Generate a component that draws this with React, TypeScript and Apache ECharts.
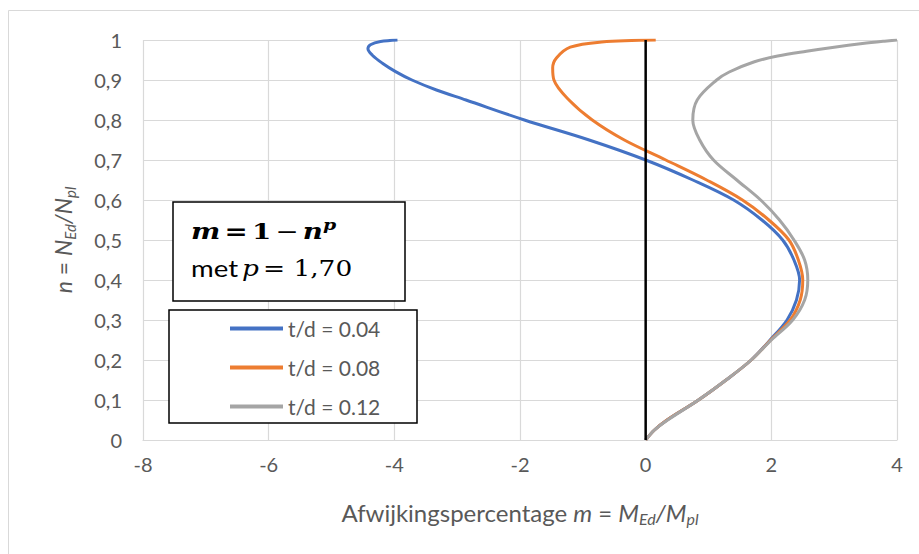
import React, { useEffect, useRef } from "react";
import * as echarts from "echarts";

// [m, n] pairs
const serie004: [number, number][] = [
  [0, 0], [0.14, 0.025], [0.34, 0.05], [0.84, 0.1], [1.28, 0.15], [1.68, 0.2],
  [1.98, 0.25], [2.25, 0.3], [2.4, 0.35], [2.45, 0.4], [2.36, 0.45], [2.18, 0.5],
  [1.85, 0.55], [1.4, 0.6], [0.75, 0.65], [0, 0.7], [-0.9, 0.75], [-1.93, 0.8],
  [-2.86, 0.85], [-3.33, 0.875], [-3.72, 0.9], [-3.98, 0.921], [-4.19, 0.942],
  [-4.35, 0.962], [-4.42, 0.978], [-4.38, 0.988], [-4.22, 0.996], [-3.95, 1],
];
const serie008: [number, number][] = [
  [0, 0], [0.14, 0.025], [0.34, 0.05], [0.84, 0.1], [1.28, 0.15], [1.68, 0.2],
  [1.99, 0.25], [2.3, 0.3], [2.46, 0.35], [2.5, 0.4], [2.43, 0.45], [2.28, 0.5],
  [1.96, 0.55], [1.54, 0.6], [0.97, 0.65], [0.32, 0.7], [-0.34, 0.75], [-0.85, 0.8],
  [-1.22, 0.85], [-1.46, 0.9], [-1.48, 0.93], [-1.42, 0.955], [-1.2, 0.982],
  [-0.7, 0.995], [0.16, 1],
];
const serie012: [number, number][] = [
  [0, 0], [0.14, 0.025], [0.35, 0.05], [0.84, 0.1], [1.28, 0.15], [1.68, 0.2],
  [2.0, 0.25], [2.34, 0.3], [2.53, 0.35], [2.58, 0.4], [2.53, 0.45], [2.36, 0.5],
  [2.13, 0.55], [1.83, 0.6], [1.45, 0.65], [1.08, 0.7], [0.86, 0.75], [0.75, 0.8],
  [0.82, 0.85], [1.13, 0.9], [1.33, 0.92], [1.72, 0.945], [2.1, 0.96],
  [2.56, 0.972], [3.0, 0.982], [3.45, 0.991], [3.8, 0.997], [4.0, 1],
];
const zeroLine: [number, number][] = [[0, 0], [0, 1]];

const seriesNames = ["t/d = 0.04", "t/d = 0.08", "t/d = 0.12"];
const seriesColors = ["#4472C4", "#ED7D31", "#A5A5A5"];

const xMin = -8, xMax = 4, xStep = 2;
const yMin = 0, yMax = 1, yStep = 0.1;

const FONT = "Lato, 'Open Sans', sans-serif";
const MATH = "'DejaVu Serif', 'Liberation Serif', serif";

export default function App() {
  const ref = useRef<HTMLDivElement>(null);
  useEffect(() => {
    if (!ref.current) return;
    const chart = echarts.init(ref.current, undefined, { renderer: "svg" });
    const datasets = [serie004, serie008, serie012];
    const curveSeries = datasets.map((d, i) => ({
      name: seriesNames[i],
      type: "line",
      data: d,
      smooth: 0.35,
      showSymbol: false,
      symbol: "none",
      lineStyle: { color: seriesColors[i], width: 3 },
      itemStyle: { color: seriesColors[i] },
      z: 2 + i,
    }));
    const nameRich = (size: number) => ({
      i: { fontStyle: "italic", fontSize: size, color: "#595959", fontFamily: FONT, lineHeight: 28 },
      s: { fontStyle: "italic", fontSize: Math.round(size * 0.65), color: "#595959", fontFamily: FONT, lineHeight: 15, verticalAlign: "bottom" },
    });
    chart.setOption({
      animation: false,
      backgroundColor: "#ffffff",
      grid: { left: 143, right: 22, top: 40, bottom: 114 },
      xAxis: {
        type: "value",
        min: xMin,
        max: xMax,
        interval: xStep,
        axisLine: { show: true, onZero: false, lineStyle: { color: "#d9d9d9", width: 1.2 } },
        axisTick: { show: false },
        splitLine: { show: true, lineStyle: { color: "#d9d9d9", width: 1.2 } },
        axisLabel: { color: "#595959", fontSize: 20, fontFamily: FONT, margin: 14 },
        name: "Afwijkingspercentage {i|m} = {i|M}{s|Ed}{i|/M}{s|pl}",
        nameLocation: "middle",
        nameGap: 58,
        nameTextStyle: {
          color: "#595959",
          fontSize: 24,
          fontFamily: FONT,
          lineHeight: 28,
          rich: nameRich(24),
        },
      },
      yAxis: {
        type: "value",
        min: yMin,
        max: yMax,
        interval: yStep,
        axisLine: { show: false, onZero: false },
        axisTick: { show: false },
        splitLine: { show: true, lineStyle: { color: "#d9d9d9", width: 1.2 } },
        axisLabel: {
          color: "#595959",
          fontSize: 20,
          fontFamily: FONT,
          margin: 21,
          formatter: (v: number) => String(Math.round(v * 10) / 10).replace(".", ","),
        },
        name: "{i|n} = {i|N}{s|Ed}{i|/N}{s|pl}",
        nameLocation: "middle",
        nameRotate: 90,
        nameGap: 66,
        nameTextStyle: {
          color: "#595959",
          fontSize: 23,
          fontFamily: FONT,
          lineHeight: 28,
          rich: nameRich(23),
        },
      },
      legend: {
        data: seriesNames,
        orient: "vertical",
        left: 230,
        top: 318,
        padding: 0,
        itemWidth: 53,
        itemHeight: 4,
        itemGap: 18,
        icon: "rect",
        z: 20,
        textStyle: { color: "#595959", fontSize: 21, fontFamily: FONT, lineHeight: 20 },
      },
      graphic: [
        {
          type: "line",
          shape: { x1: 8.5, y1: 10.5, x2: 919, y2: 10.5 },
          style: { stroke: "#d9d9d9", lineWidth: 1 },
          z: 1,
        },
        {
          type: "line",
          shape: { x1: 8.5, y1: 10.5, x2: 8.5, y2: 554 },
          style: { stroke: "#d9d9d9", lineWidth: 1 },
          z: 1,
        },
        {
          type: "rect",
          shape: { x: 173, y: 202, width: 232, height: 99 },
          style: { fill: "#ffffff", stroke: "#000000", lineWidth: 1.5 },
          z: 10,
        },
        {
          type: "text",
          x: 191,
          y: 232,
          scaleX: 1.26,
          z: 11,
          style: {
            text: "{mi|m} {r|=} {r|1} {o|−} {mi|n}{sup|p}",
            verticalAlign: "middle",
            rich: {
              mi: { fontFamily: MATH, fontSize: 22, fontWeight: "bold", fontStyle: "italic", fill: "#000", lineHeight: 30 },
              r: { fontFamily: MATH, fontSize: 22, fontWeight: "bold", fill: "#000", lineHeight: 30 },
              o: { fontFamily: MATH, fontSize: 22, fill: "#000", lineHeight: 30 },
              sup: { fontFamily: MATH, fontSize: 15, fontWeight: "bold", fontStyle: "italic", fill: "#000", lineHeight: 15, verticalAlign: "top" },
            },
          },
        },
        {
          type: "text",
          x: 191,
          y: 268,
          scaleX: 1.2,
          z: 11,
          style: {
            text: "{t|met} {mi|p} {r|= 1,70}",
            verticalAlign: "middle",
            rich: {
              t: { fontFamily: FONT, fontSize: 23, fill: "#000", lineHeight: 30 },
              mi: { fontFamily: MATH, fontSize: 22, fontStyle: "italic", fill: "#000", lineHeight: 30 },
              r: { fontFamily: MATH, fontSize: 22, fill: "#000", lineHeight: 30 },
            },
          },
        },
        {
          type: "rect",
          shape: { x: 169, y: 310, width: 248, height: 113 },
          style: { fill: "#ffffff", stroke: "#000000", lineWidth: 1.5 },
          z: 10,
        },
      ],
      series: [
        ...curveSeries,
        {
          name: "zero",
          type: "line",
          data: zeroLine,
          showSymbol: false,
          symbol: "none",
          lineStyle: { color: "#000000", width: 2.5 },
          z: 6,
        },
      ],
    });
    return () => chart.dispose();
  }, []);
  return (
    <div
      ref={ref}
      style={{ position: "fixed", left: 0, top: 0, width: 919, height: 554, background: "#fff" }}
    />
  );
}
